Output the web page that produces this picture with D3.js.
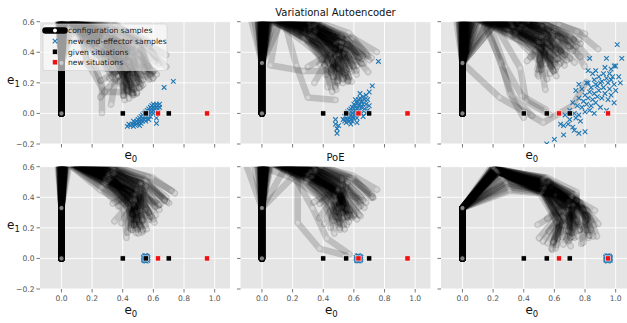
<!DOCTYPE html>
<html><head><meta charset="utf-8">
<script src="https://cdn.jsdelivr.net/npm/d3@7"></script>
<style>body{margin:0;background:#fff} svg{display:block}</style>
</head><body><svg id="chart" width="627" height="323"></svg>
<script>
// Planar arm: first link fixed vertical, the rest given by headings (deg)
const linkLengths = [0.33, 0.33, 0.33, 0.22, 0.18];
const givenSituations = [0.4, 0.55, 0.7];
const newSituations = [0.63, 0.95];
const xTicks = [0, 0.2, 0.4, 0.6, 0.8, 1.0];
const yTicks = [-0.2, 0, 0.2, 0.4, 0.6];

// configuration samples: headings of links 2..5
const posesVae1 = [
  [90,-40,-30,-70],[92,-25,-45,-90],[88,-50,-20,-60],[95,-30,-10,-40],[85,-35,-35,-80],
  [90,-45,-40,-60],[88,-20,-20,-30],[90,-28,-25,-55],[90,-35,-50,-70],[87,-40,-55,-85],
  [70,-80,-10,10],[75,-75,-60,0],[85,-15,-25,-60],[90,-10,-35,-70],[80,-20,-30,-45],
  [93,-32,-28,-65],[86,-38,-42,-75],[91,-22,-35,-50],[89,-30,-48,-95],[94,-42,-25,-58],
  [89,-36,-32,-66],[91,-44,-36,-72],[87,-26,-38,-62],[92,-33,-22,-52],[88,-47,-30,-78],
  [90,-24,-42,-82],[86,-31,-27,-48],[93,-38,-46,-88],[85,-28,-33,-58],[91,-50,-35,-65],
  [89,-18,-30,-68],[94,-35,-40,-72],[87,-42,-48,-80],[90,-27,-20,-62],[88,-34,-55,-92],
  [92,-29,-37,-44],
  [88,-45,-60,-100],[90,-55,-70,-90],[92,-38,-15,-120],[87,-30,-60,-150],[89,-42,-25,-140],
  [91,-20,-50,-110],[86,-48,-35,-20],[93,-26,-65,-70],[90,-33,-10,-100],[88,-52,-45,-130],
  [85,-24,-18,-90],[92,-46,-58,-40],[89,-36,-28,-160],[91,-30,-45,-20]
];
const posesVae2 = [
  [90,-15,-30,-60],[85,-20,-40,-70],[95,-10,-25,-50],[80,-25,-35,-80],[100,-5,-30,-55],
  [75,-30,-20,-50],[90,-20,-15,-40],[88,-12,-30,-45],[92,-25,-50,-90],[82,-18,-28,-35],
  [78,-15,-20,-30],[90,-35,-40,-75],[86,-22,-45,-65],[95,-28,-35,-60],[84,-10,-20,-50],
  [90,-30,-55,-75],[80,-25,-40,-100],[65,-75,-70,-5],[104,-20,-30,-60],[70,-100,-10,0],
  [89,-18,-34,-62],[87,-22,-30,-55],[93,-14,-36,-68],[84,-26,-38,-72],[91,-12,-24,-48],
  [86,-19,-42,-80],[96,-17,-27,-58],[81,-21,-33,-66],[88,-28,-44,-85],[79,-13,-26,-42],
  [94,-24,-40,-74],[90,-9,-28,-52],[85,-16,-22,-38],[92,-31,-36,-64],[83,-20,-46,-95],
  [87,-14,-32,-57],
  [90,-22,-55,-120],[86,-15,-38,-140],[92,-30,-20,-95],[84,-12,-45,-110],[88,-25,-15,-75],
  [95,-20,-60,-30],[81,-28,-30,-130],[89,-8,-40,-90],[87,-33,-25,-20],[91,-18,-48,-150],
  [83,-23,-12,-60],[93,-12,-35,-100],[85,-27,-52,-45],[90,-16,-28,-125]
];
const posesVae3 = [
  [90,-10,-20,-40],[85,-5,-15,-30],[95,-15,-25,-45],[80,-10,-10,-25],[75,-5,-10,-20],
  [70,-12,-20,-45],[90,-20,-30,-60],[50,5,-20,-40],[55,-5,-30,-60],[88,-25,-35,-70],
  [92,-8,-18,-50],[83,-18,-25,-35],[78,-30,-45,-80],[87,-15,-40,-55],[60,-70,-60,-30],
  [50,-60,-80,-30],[65,-70,-70,-45],[70,-65,-75,-60],[-43,-30,30,60],[98,-12,-22,-38],
  [88,-12,-22,-44],[86,-8,-18,-36],[93,-16,-28,-52],[81,-13,-14,-30],[77,-9,-16,-28],
  [91,-22,-26,-48],[84,-11,-30,-58],[89,-6,-12,-34],[73,-15,-24,-50],[95,-19,-20,-42],
  [82,-24,-32,-64],[87,-17,-36,-62],[79,-7,-20,-46],[90,-14,-16,-26],[58,-2,-25,-50],
  [85,-20,-22,-40],
  [88,-15,-30,-100],[84,-10,-25,-130],[92,-20,-12,-80],[80,-18,-35,-110],[86,-6,-28,-70],
  [90,-25,-15,-20],[76,-12,-40,-90],[94,-10,-8,-60],[82,-22,-20,-140],[89,-16,-45,-30],
  [72,-8,-30,-75],[87,-28,-22,-95],[79,-14,-18,-120],[91,-12,-35,-85]
];
const posesPoe1 = [
  [90,-25,-35,-80],[92,-20,-45,-90],[88,-30,-30,-70],[95,-18,-28,-60],[85,-22,-40,-100],
  [90,-15,-25,-50],[87,-12,-20,-40],[85,-10,-18,-30],[80,-12,-15,-35],[93,-35,-45,-85],
  [90,-40,-30,-60],[86,-28,-50,-75],[89,-25,-20,-45],[91,-32,-38,-95],[88,-20,-55,-88],
  [82,-15,-25,-40],[94,-22,-32,-70],[90,-30,-40,-65],
  [89,-24,-30,-66],[91,-18,-36,-78],[87,-28,-26,-58],[93,-16,-24,-52],[86,-20,-34,-86],
  [90,-13,-28,-48],[88,-26,-42,-82],[92,-30,-32,-72],[84,-14,-22,-44],[90,-22,-38,-92],
  [87,-33,-36,-62],[91,-27,-24,-56],[89,-17,-20,-36],[85,-19,-30,-62],[93,-25,-46,-80],
  [88,-21,-27,-70],[86,-11,-24,-46],[90,-36,-34,-78],
  [90,-22,-45,-130],[87,-16,-30,-110],[92,-28,-18,-100],[88,-12,-38,-140],[85,-25,-50,-40],
  [91,-19,-15,-80],[89,-31,-28,-120],[86,-14,-42,-95],[93,-24,-20,-150],[90,-10,-30,-90],
  [88,-29,-52,-60],[84,-18,-22,-110],[92,-21,-35,-20],[87,-26,-40,-100]
];
const posesPoe2 = [
  [90,-20,-30,-70],[88,-15,-25,-55],[92,-10,-20,-45],[85,-25,-35,-75],[95,-22,-30,-60],
  [80,-10,-15,-30],[82,-12,-20,-40],[78,-8,-22,-45],[90,-30,-45,-80],[86,-18,-40,-90],
  [100,-15,-30,-65],[89,-20,-35,-60],[84,-25,-28,-50],[91,-28,-42,-70],[60,-60,-65,-35],
  [45,-90,-50,-15],[110,-20,-35,-60],[87,-16,-33,-85],
  [89,-18,-32,-66],[87,-13,-27,-52],[91,-12,-22,-48],[86,-23,-33,-72],[93,-20,-28,-62],
  [83,-11,-18,-36],[85,-14,-24,-44],[80,-10,-20,-42],[90,-26,-40,-76],[88,-16,-36,-84],
  [96,-17,-26,-58],[89,-22,-30,-56],[85,-21,-30,-54],[92,-25,-38,-66],[87,-19,-28,-64],
  [90,-15,-34,-72],[84,-17,-26,-48],[91,-23,-36,-80],
  [90,-18,-42,-125],[87,-12,-30,-105],[92,-24,-20,-95],[88,-10,-36,-140],[85,-22,-48,-40],
  [91,-16,-18,-80],[89,-28,-32,-115],[86,-13,-40,-95],[93,-20,-24,-150],[90,-8,-26,-90],
  [88,-26,-50,-60],[84,-15,-20,-110],[92,-19,-30,-20],[87,-23,-44,-100]
];
const posesPoe3 = [
  [48,-18,-45,-85],[50,-10,-30,-60],[45,-25,-60,-110],[52,-15,-35,-70],[47,-20,-40,-75],
  [40,-15,-25,-50],[55,-22,-50,-95],[30,-10,-35,-80],[20,-5,-40,-100],[50,-20,-65,-130],
  [48,-25,-55,-120],[53,-12,-28,-55],[45,-18,-48,-90],[25,-8,-30,-70],[49,-28,-60,-100],
  [51,-16,-42,-65],[46,-14,-38,-105],[35,-15,-30,-75],
  [49,-19,-44,-80],[51,-12,-32,-64],[46,-22,-56,-104],[50,-17,-38,-72],[48,-21,-42,-78],
  [42,-14,-28,-56],[53,-20,-47,-92],[32,-11,-33,-76],[22,-6,-38,-96],[49,-22,-62,-124],
  [47,-23,-52,-114],[52,-13,-30,-58],[46,-17,-46,-88],[28,-9,-32,-74],[48,-26,-58,-98],
  [50,-15,-40,-68],[47,-15,-36,-100],[38,-13,-28,-70],
  [48,-16,-50,-130],[50,-12,-36,-110],[46,-20,-30,-95],[51,-10,-44,-140],[47,-24,-66,-60],
  [49,-14,-22,-85],[52,-18,-54,-150],[45,-12,-40,-100],[30,-14,-50,-120],[48,-8,-26,-90],
  [50,-22,-46,-40],[44,-10,-34,-115],[53,-14,-30,-30],[47,-19,-58,-110]
];

// new end-effector samples
const samplesVae1 = [
  [0.43,-0.085],[0.45,-0.08],[0.46,-0.07],[0.47,-0.085],[0.48,-0.06],[0.48,-0.075],[0.49,-0.05],
  [0.49,-0.07],[0.50,-0.06],[0.50,-0.04],[0.51,-0.055],[0.51,-0.03],[0.52,-0.045],[0.52,-0.02],
  [0.53,-0.05],[0.53,-0.03],[0.53,-0.01],[0.54,-0.04],[0.54,-0.02],[0.54,0.0],[0.55,-0.03],
  [0.55,-0.01],[0.55,0.01],[0.56,-0.02],[0.56,0.0],[0.56,0.02],[0.57,-0.01],[0.57,0.01],
  [0.57,0.03],[0.58,0.0],[0.58,0.02],[0.58,0.04],[0.59,0.01],[0.59,0.03],[0.59,0.05],[0.6,0.02],
  [0.6,0.04],[0.6,0.06],[0.61,0.03],[0.61,0.05],[0.62,0.04],[0.62,0.06],[0.63,0.05],[0.63,0.03],
  [0.64,0.06],[0.55,-0.05],[0.52,-0.065],[0.58,-0.02],[0.47,-0.05],[0.44,-0.07],[0.62,-0.03],
  [0.62,-0.065],[0.64,0.04],[0.67,0.17],[0.73,0.21],[0.51,-0.08],[0.57,-0.04],[0.6,0.0]
];
const samplesVae2 = [
  [0.53,-0.04],[0.54,-0.02],[0.54,-0.05],[0.55,-0.03],[0.55,-0.06],[0.55,0.0],[0.56,-0.02],
  [0.56,-0.04],[0.56,0.01],[0.57,-0.03],[0.57,-0.05],[0.57,0.0],[0.57,0.02],[0.58,-0.01],
  [0.58,-0.04],[0.58,0.03],[0.59,-0.02],[0.59,0.0],[0.59,0.04],[0.59,-0.05],[0.6,-0.03],
  [0.6,0.01],[0.6,0.03],[0.6,0.06],[0.61,-0.01],[0.61,0.02],[0.61,0.05],[0.62,0.0],[0.62,0.03],
  [0.62,0.07],[0.62,-0.03],[0.63,0.01],[0.63,0.05],[0.63,0.09],[0.64,0.02],[0.64,0.06],
  [0.64,0.1],[0.65,0.04],[0.65,0.08],[0.65,0.0],[0.66,0.06],[0.66,0.11],[0.67,0.03],[0.67,0.09],
  [0.68,0.06],[0.68,0.12],[0.69,0.09],[0.7,0.05],[0.7,0.14],[0.72,0.18],[0.76,0.34],[0.68,0.0],
  [0.66,-0.02],[0.48,-0.04],[0.48,-0.07],[0.49,-0.1],[0.49,-0.13],[0.5,-0.08],[0.58,-0.07],
  [0.62,-0.06],[0.61,0.09],[0.64,0.13],[0.69,0.02]
];
const samplesVae3 = [
  [1.01,0.45],[0.94,0.36],[1.04,0.36],[0.83,0.36],[0.99,0.31],[1.0,0.31],[0.97,0.29],[0.82,0.28],
  [0.87,0.28],[0.96,0.26],[0.92,0.26],[1.02,0.24],[0.89,0.24],[0.94,0.23],[0.97,0.22],[0.82,0.2],
  [0.86,0.22],[0.91,0.21],[0.95,0.2],[0.99,0.19],[0.74,0.15],[0.78,0.16],[0.84,0.17],[0.88,0.18],
  [0.92,0.17],[0.96,0.16],[1.0,0.15],[0.8,0.12],[0.83,0.14],[0.86,0.13],[0.89,0.15],[0.93,0.13],
  [0.97,0.12],[0.76,0.1],[0.79,0.08],[0.82,0.1],[0.85,0.09],[0.88,0.11],[0.91,0.1],[0.95,0.09],
  [0.99,0.07],[0.72,0.07],[0.75,0.05],[0.78,0.04],[0.81,0.06],[0.84,0.05],[0.87,0.07],[0.9,0.04],
  [0.94,0.02],[0.7,0.02],[0.73,0.0],[0.76,-0.01],[0.8,0.01],[0.83,0.02],[0.86,0.0],[0.67,-0.01],
  [0.7,-0.04],[0.74,-0.03],[0.77,-0.05],[0.64,-0.07],[0.66,-0.08],[0.69,-0.07],[0.72,-0.09],
  [0.76,-0.13],[0.8,-0.12],[0.66,-0.14],[0.6,-0.17],[0.55,-0.2],[0.73,-0.11],[0.87,0.19],
  [0.9,0.2],[0.85,0.26],[0.93,0.3],[1.03,0.2],[0.98,0.24],[0.81,0.2],[0.76,0.19]
];
const samplesPoe1 = [
  [0.535,0.008],[0.538,-0.01],[0.542,0.016],[0.545,-0.016],[0.55,0.019],[0.553,-0.018],
  [0.558,0.014],[0.562,-0.012],[0.565,0.005],[0.564,-0.004],[0.536,-0.002],[0.547,0.012],
  [0.556,-0.008],[0.541,-0.013],[0.56,0.01],[0.552,0.004]
];
const samplesPoe2 = [
  [0.614,0.007],[0.617,-0.011],[0.622,0.017],[0.626,-0.015],[0.63,0.018],[0.634,-0.017],
  [0.639,0.013],[0.643,-0.011],[0.646,0.006],[0.645,-0.005],[0.615,-0.003],[0.627,0.011],
  [0.637,-0.009],[0.621,-0.014],[0.641,0.01],[0.632,0.003]
];
const samplesPoe3 = [
  [0.934,0.009],[0.937,-0.01],[0.942,0.016],[0.946,-0.017],[0.95,0.018],[0.954,-0.016],
  [0.959,0.014],[0.963,-0.012],[0.966,0.004],[0.965,-0.005],[0.935,-0.003],[0.948,0.012],
  [0.957,-0.009],[0.941,-0.013],[0.961,0.01],[0.951,0.003]
];

const panels = [
  {row: 0, col: 0, poses: posesVae1, samples: samplesVae1, xlabel: true},
  {row: 0, col: 1, poses: posesVae2, samples: samplesVae2, xlabel: false, title: "Variational Autoencoder"},
  {row: 0, col: 2, poses: posesVae3, samples: samplesVae3, xlabel: true},
  {row: 1, col: 0, poses: posesPoe1, samples: samplesPoe1, xlabel: true},
  {row: 1, col: 1, poses: posesPoe2, samples: samplesPoe2, xlabel: true, title: "PoE"},
  {row: 1, col: 2, poses: posesPoe3, samples: samplesPoe3, xlabel: true}
];

const W = 190, H = 122.3;
const colLeft = [40, 240.5, 441];
const rowTop = [21.7, 166.7];
const x = d3.scaleLinear().domain([-0.14, 1.10]).range([0, W]);
const y = d3.scaleLinear().domain([-0.2, 0.6]).range([H, 0]);
const fmt = d3.format(".1f");
const FONT = "DejaVu Sans, sans-serif";
const BLUE = "#1f77b4", RED = "#ee1111";

const svg = d3.select("#chart");

function joints(h) {
  const pts = [[0, 0], [0, linkLengths[0]]];
  h.forEach((deg, i) => {
    const a = deg * Math.PI / 180, p = pts[pts.length - 1];
    pts.push([p[0] + linkLengths[i + 1] * Math.cos(a), p[1] + linkLengths[i + 1] * Math.sin(a)]);
  });
  return pts;
}
const line = d3.line().x(d => x(d[0])).y(d => y(d[1]));
const crossPath = s => `M${-s},${-s}L${s},${s}M${-s},${s}L${s},${-s}`;

panels.forEach((p, i) => {
  const g = svg.append("g").attr("transform", `translate(${colLeft[p.col]},${rowTop[p.row]})`);
  g.append("rect").attr("width", W).attr("height", H).attr("fill", "#e5e5e5");
  const clipId = "clip" + i;
  g.append("clipPath").attr("id", clipId).append("rect").attr("width", W).attr("height", H);

  // grid
  g.selectAll(".gx").data(xTicks).join("line").attr("class", "gx")
    .attr("x1", d => x(d)).attr("x2", d => x(d)).attr("y1", 0).attr("y2", H)
    .attr("stroke", "#fff").attr("stroke-width", 0.9);
  g.selectAll(".gy").data(yTicks).join("line").attr("class", "gy")
    .attr("x1", 0).attr("x2", W).attr("y1", d => y(d)).attr("y2", d => y(d))
    .attr("stroke", "#fff").attr("stroke-width", 0.9);

  // ticks
  g.selectAll(".tx").data(xTicks).join("line").attr("class", "tx")
    .attr("x1", d => x(d)).attr("x2", d => x(d)).attr("y1", H).attr("y2", H + 3.5)
    .attr("stroke", "#555").attr("stroke-width", 0.8);
  g.selectAll(".ty").data(yTicks).join("line").attr("class", "ty")
    .attr("x1", -3.5).attr("x2", 0).attr("y1", d => y(d)).attr("y2", d => y(d))
    .attr("stroke", "#555").attr("stroke-width", 0.8);
  if (p.row === 1) {
    g.selectAll(".lx").data(xTicks).join("text").attr("class", "lx")
      .attr("x", d => x(d)).attr("y", H + 12.5).attr("text-anchor", "middle")
      .attr("font-family", FONT).attr("font-size", 7.6).attr("fill", "#555").text(fmt);
  }
  if (p.col === 0) {
    g.selectAll(".ly").data(yTicks).join("text").attr("class", "ly")
      .attr("x", -5.5).attr("y", d => y(d) + 2.8).attr("text-anchor", "end")
      .attr("font-family", FONT).attr("font-size", 7.6).attr("fill", "#555").text(fmt);
    const yl = g.append("text").attr("x", -33).attr("y", H / 2 + 1)
      .attr("font-family", FONT).attr("font-size", 12).attr("fill", "#111");
    yl.append("tspan").text("e");
    yl.append("tspan").attr("font-size", 8.5).attr("dy", 3).text("1");
  }
  if (p.xlabel) {
    const xl = g.append("text").attr("x", x(0.45) - 6).attr("y", H + (p.row === 1 ? 25 : 15.5))
      .attr("font-family", FONT).attr("font-size", 12).attr("fill", "#111");
    xl.append("tspan").text("e");
    xl.append("tspan").attr("font-size", 8.5).attr("dy", 3).text("0");
  }
  if (p.title) {
    g.append("text").attr("x", W / 2).attr("y", -5.5).attr("text-anchor", "middle")
      .attr("font-family", FONT).attr("font-size", 10).attr("fill", "#111").text(p.title);
  }

  const plot = g.append("g").attr("clip-path", `url(#${clipId})`);

  // configuration samples
  p.poses.forEach(h => {
    const pts = joints(h);
    const arm = plot.append("g").attr("opacity", 0.17);
    arm.append("path").attr("d", line(pts)).attr("fill", "none").attr("stroke", "#000")
      .attr("stroke-width", 6.5).attr("stroke-linecap", "round").attr("stroke-linejoin", "round");
    arm.selectAll("circle").data(pts).join("circle")
      .attr("cx", d => x(d[0])).attr("cy", d => y(d[1])).attr("r", 2.6)
      .attr("fill", "#fff").attr("fill-opacity", 0.5)
      .attr("stroke", "#000").attr("stroke-width", 0.9);
  });

  // new end-effector samples
  plot.selectAll(".ee").data(p.samples).join("path").attr("class", "ee")
    .attr("transform", d => `translate(${x(d[0])},${y(d[1])})`)
    .attr("d", crossPath(2.3)).attr("stroke", BLUE).attr("stroke-width", 1.1).attr("fill", "none");

  // situations
  plot.selectAll(".gs").data(givenSituations).join("rect").attr("class", "gs")
    .attr("x", d => x(d) - 2.6).attr("y", y(0) - 2.6).attr("width", 5.2).attr("height", 5.2)
    .attr("fill", "#000").attr("stroke", "#fff").attr("stroke-width", 0.6);
  plot.selectAll(".ns").data(newSituations).join("rect").attr("class", "ns")
    .attr("x", d => x(d) - 2.6).attr("y", y(0) - 2.6).attr("width", 5.2).attr("height", 5.2)
    .attr("fill", RED).attr("stroke", "#fff").attr("stroke-width", 0.6);
});

// legend in the first panel
const lg = svg.append("g").attr("transform", "translate(43,24)");
lg.append("rect").attr("width", 124).attr("height", 46.5).attr("rx", 2)
  .attr("fill", "#fff").attr("fill-opacity", 0.6).attr("stroke", "#ccc").attr("stroke-width", 0.6);
const items = ["configuration samples", "new end-effector samples", "given situations", "new situations"];
items.forEach((t, i) => {
  const yy = 6.5 + i * 10.6;
  const mx = 12;
  if (i === 0) {
    lg.append("line").attr("x1", 2.5).attr("x2", 21.5).attr("y1", yy).attr("y2", yy)
      .attr("stroke", "#000").attr("stroke-width", 6.5).attr("stroke-linecap", "round");
    lg.append("circle").attr("cx", mx).attr("cy", yy).attr("r", 2).attr("fill", "#fff");
  } else if (i === 1) {
    lg.append("path").attr("transform", `translate(${mx},${yy})`).attr("d", crossPath(2.3))
      .attr("stroke", BLUE).attr("stroke-width", 1.1);
  } else {
    lg.append("rect").attr("x", mx - 2.6).attr("y", yy - 2.6).attr("width", 5.2).attr("height", 5.2)
      .attr("fill", i === 2 ? "#000" : RED).attr("stroke", "#fff").attr("stroke-width", 0.6);
  }
  lg.append("text").attr("x", 25).attr("y", yy + 2.8).attr("font-family", FONT)
    .attr("font-size", 7.6).attr("fill", "#222").text(t);
});
</script></body></html>
